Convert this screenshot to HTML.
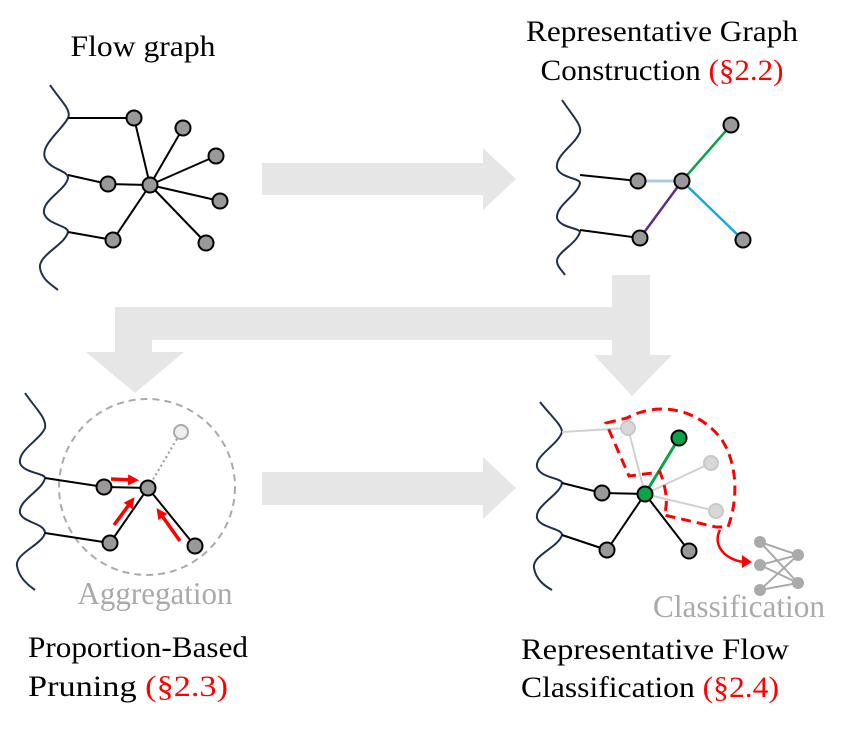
<!DOCTYPE html>
<html><head><meta charset="utf-8"><style>html,body{margin:0;padding:0;background:#fff}</style></head>
<body>
<svg width="858" height="726" viewBox="0 0 858 726" xmlns="http://www.w3.org/2000/svg" font-family="Liberation Serif, serif">
<defs>
<marker id="ra" markerWidth="11" markerHeight="11" refX="5" refY="5.5" orient="auto" markerUnits="userSpaceOnUse" viewBox="0 0 11 11"><path d="M0,0 L11,5.5 L0,11 Z" fill="#f00"/></marker>
</defs>
<g fill="#e6e6e6">
<polygon points="262,163 483,163 483,148 516,179 483,210 483,195 262,195"/>
<polygon points="262,472 483,472 483,457 516,488 483,519 483,505 262,505"/>
<polygon points="612,275 650,275 650,355 672,355 632,396 594,355 612,355"/>
<polygon points="115,307 612,307 612,340 152,340 152,352 184,352 135,393 86,352 115,352"/>
</g>
<g font-size="30" text-anchor="middle" fill="#000">
<text x="143" y="56" textLength="145" lengthAdjust="spacingAndGlyphs">Flow graph</text>
<text x="662" y="41" textLength="272" lengthAdjust="spacingAndGlyphs">Representative Graph</text>
<text x="662" y="80" textLength="243" lengthAdjust="spacingAndGlyphs">Construction <tspan fill="#f00">(§2.2)</tspan></text>
<text x="138" y="657" textLength="220" lengthAdjust="spacingAndGlyphs">Proportion-Based</text>
<text x="128" y="696" textLength="200" lengthAdjust="spacingAndGlyphs">Pruning <tspan fill="#f00">(§2.3)</tspan></text>
<text x="655" y="659" textLength="268" lengthAdjust="spacingAndGlyphs">Representative Flow</text>
<text x="650" y="697" textLength="258" lengthAdjust="spacingAndGlyphs">Classification <tspan fill="#f00">(§2.4)</tspan></text>
</g>
<g font-size="32" fill="#aaa" text-anchor="middle">
<text x="155" y="604" textLength="155" lengthAdjust="spacingAndGlyphs">Aggregation</text>
<text x="739" y="617" textLength="172" lengthAdjust="spacingAndGlyphs">Classification</text>
</g>
<g fill="none" stroke="#1f2f4f" stroke-width="2">
<path d="M50,85 C60,100 72,110 68,118 C62,130 40,145 45,158 C50,170 68,170 68,178 C66,190 42,200 44,213 C47,225 68,225 68,232 C65,245 38,255 40,268 C42,280 52,285 58,290"/>
<path d="M562,100 C572,115 582,125 580,132 C575,145 555,155 557,168 C560,178 580,178 580,183 C578,195 556,205 557,218 C560,228 580,228 580,232 C576,245 556,252 557,262 C558,268 562,270 565,275"/>
<path d="M25,393 C35,408 47,418 45,428 C40,440 18,450 20,463 C23,473 45,473 45,478 C43,490 18,500 20,513 C23,523 45,523 45,533 C42,545 15,553 17,566 C19,578 28,585 35,590"/>
<path d="M540,402 C550,415 562,425 562,432 C558,445 535,455 537,467 C540,478 562,478 562,483 C560,495 535,505 537,518 C540,528 562,528 562,535 C558,548 532,555 534,568 C536,580 545,586 552,590"/>
</g>
<g stroke="#000" stroke-width="2" fill="none">
<path d="M68,118 L134,118 L150,185 M68,175 L108,184 L150,185 M68,232 L113,240 L150,185 M150,185 L183,128 M150,185 L216,156 M150,185 L220,201 M150,185 L206,243"/>
</g>
<g fill="#9a9898" stroke="#000" stroke-width="2">
<circle cx="134" cy="118" r="7.5"/><circle cx="108" cy="184" r="7.5"/><circle cx="150" cy="185" r="7.5"/><circle cx="183" cy="128" r="7.5"/><circle cx="216" cy="156" r="7.5"/><circle cx="220" cy="201" r="7.5"/><circle cx="206" cy="243" r="7.5"/><circle cx="113" cy="240" r="7.5"/>
</g>
<g stroke-width="2.5" fill="none">
<path d="M580,175 L638,181 M580,230 L640,238" stroke="#000" stroke-width="2"/>
<path d="M638,181 L682,181" stroke="#b4c6e7" stroke-width="3"/>
<path d="M682,181 L731,125" stroke="#0aa34a"/>
<path d="M682,181 L743,240" stroke="#18a8e0"/>
<path d="M682,181 L640,238" stroke="#5b2d8e"/>
</g>
<g fill="#9a9898" stroke="#000" stroke-width="2">
<circle cx="638" cy="181" r="7.5"/><circle cx="682" cy="181" r="7.5"/><circle cx="731" cy="125" r="7.5"/><circle cx="743" cy="240" r="7.5"/><circle cx="640" cy="238" r="7.5"/>
</g>
<circle cx="147" cy="487" r="88" fill="none" stroke="#aaa" stroke-width="2" stroke-dasharray="7,5"/>
<path d="M148,488 L181,432" stroke="#999" stroke-width="2" stroke-dasharray="2,3"/>
<g stroke="#000" stroke-width="2" fill="none">
<path d="M45,478 L104,487 L148,488 M45,533 L110,543 L148,488 L195,546"/>
</g>
<circle cx="181" cy="432" r="7" fill="#eee" stroke="#aaa" stroke-width="2"/>
<g fill="#9a9898" stroke="#000" stroke-width="2">
<circle cx="104" cy="487" r="7.5"/><circle cx="148" cy="488" r="7.5"/><circle cx="110" cy="543" r="7.5"/><circle cx="195" cy="546" r="7.5"/>
</g>
<g stroke="#f00" stroke-width="3.5" marker-end="url(#ra)">
<line x1="111" y1="479" x2="133" y2="480"/>
<line x1="114" y1="525" x2="131" y2="502"/>
<line x1="180" y1="541" x2="160" y2="513"/>
</g>
<g stroke="#d0d0d0" stroke-width="2" fill="none">
<path d="M562,432 L628,428 L645,494 M645,494 L711,463 M645,494 L716,511"/>
</g>
<g stroke="#000" stroke-width="2" fill="none">
<path d="M562,483 L602,493 L645,494 M562,535 L607,550 L645,494 L689,551"/>
</g>
<path d="M645,494 L679,438" stroke="#0aa34a" stroke-width="3"/>
<g fill="#d8d8d8" stroke="#c8c8c8" stroke-width="2">
<circle cx="628" cy="428" r="7"/><circle cx="711" cy="463" r="7"/><circle cx="716" cy="511" r="7"/>
</g>
<g fill="#9a9898" stroke="#000" stroke-width="2">
<circle cx="602" cy="493" r="7.5"/><circle cx="607" cy="550" r="7.5"/><circle cx="689" cy="551" r="7.5"/>
</g>
<g fill="#0aa34a" stroke="#000" stroke-width="2">
<circle cx="645" cy="494" r="7.5"/><circle cx="679" cy="438" r="7.5"/>
</g>
<path d="M606,423 L627,418 C660,400 700,410 722,440 C738,465 738,500 728,527 L716,527 L664,515 C668,505 667,490 660,472 L629,476 Z" fill="none" stroke="#f00" stroke-width="3" stroke-dasharray="10,6"/>
<path d="M720,530 C712,545 725,560 744,562" fill="none" stroke="#f00" stroke-width="2.5"/>
<polygon points="742,555 752,562 742,568" fill="#f00"/>
<g stroke="#aaa" stroke-width="2">
<path d="M760,542 L798,555 M760,542 L798,583 M760,565 L798,555 M760,565 L798,583 M760,590 L798,555 M760,590 L798,583"/>
</g>
<g fill="#aaa">
<circle cx="760" cy="542" r="6"/><circle cx="760" cy="565" r="6"/><circle cx="760" cy="590" r="6"/><circle cx="798" cy="555" r="6"/><circle cx="798" cy="583" r="6"/>
</g>
</svg>
</body></html>
